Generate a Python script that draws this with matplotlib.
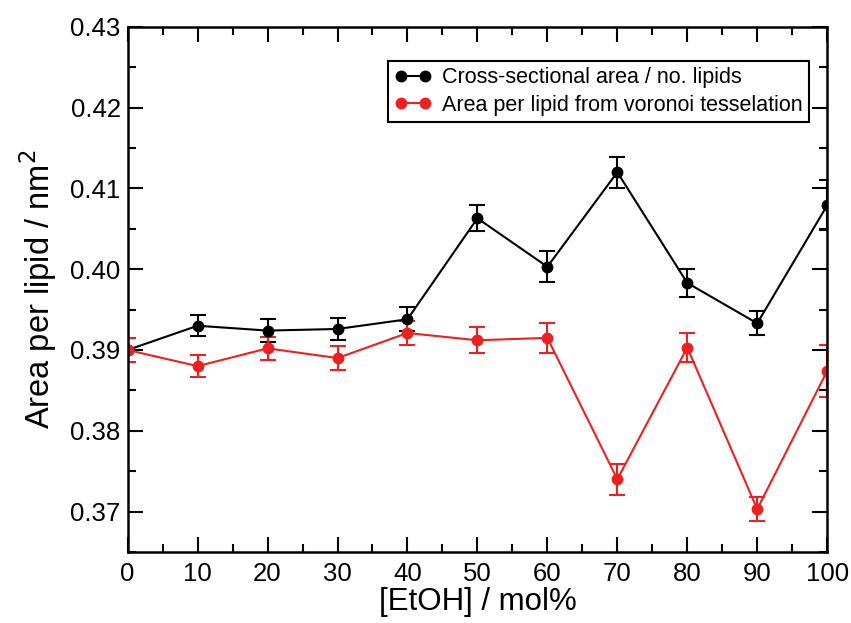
import numpy as np
import matplotlib.pyplot as plt
from matplotlib.ticker import MultipleLocator
from matplotlib.lines import Line2D

plt.rcParams['font.family'] = ['Liberation Sans', 'DejaVu Sans']

# data
etoh = [0, 10, 20, 30, 40, 50, 60, 70, 80, 90, 100]
cross_area = [0.3900, 0.3930, 0.3924, 0.3926, 0.3938, 0.4063, 0.4003, 0.4120, 0.3983, 0.3933, 0.4079]
cross_err = [0.0000, 0.0013, 0.0014, 0.0014, 0.0015, 0.0016, 0.0019, 0.0019, 0.0017, 0.0015, 0.0031]
voro_area = [0.3900, 0.3880, 0.3902, 0.3890, 0.3921, 0.3912, 0.3915, 0.3740, 0.3903, 0.3703, 0.3874]
voro_err = [0.0015, 0.0014, 0.0014, 0.0015, 0.0015, 0.0016, 0.0019, 0.0019, 0.0018, 0.0015, 0.0032]
labels = ['Cross-sectional area / no. lipids', 'Area per lipid from voronoi tesselation']

red = '#ec2020'

fig = plt.figure(figsize=(8.51, 6.23), dpi=100)
ax = fig.add_axes([0.150, 0.114, 0.822, 0.843])

handles = []
for y, err, c, lab in [(cross_area, cross_err, 'black', labels[0]),
                       (voro_area, voro_err, red, labels[1])]:
    ax.errorbar(etoh, y, yerr=err, color=c, marker='o', markersize=7.5,
                linewidth=1.5, elinewidth=1.5, capsize=6, capthick=1.5)
    handles.append(Line2D([], [], color=c, marker='o', markersize=7.5, linewidth=1.5, label=lab))

ax.set_xlim(0, 100)
ax.set_ylim(0.365, 0.43)
ax.xaxis.set_major_locator(MultipleLocator(10))
ax.xaxis.set_minor_locator(MultipleLocator(5))
ax.yaxis.set_major_locator(MultipleLocator(0.01))
ax.yaxis.set_minor_locator(MultipleLocator(0.005))
ax.yaxis.set_major_formatter(plt.FormatStrFormatter('%.2f'))

ax.tick_params(which='both', direction='in', top=True, right=True, width=1.5, labelsize=18.5)
ax.tick_params(which='major', length=11)
ax.tick_params(which='minor', length=6)
ax.tick_params(axis='y', pad=5)
ax.tick_params(axis='x', pad=7)
for s in ax.spines.values():
    s.set_linewidth(1.8)

ax.set_xlabel('[EtOH] / mol%', fontsize=22.5, labelpad=1)
ax.set_ylabel('Area per lipid / nm$^2$', fontsize=23.5, labelpad=8)

leg = ax.legend(handles=handles, loc='upper right', bbox_to_anchor=(0.974, 0.935),
                fontsize=15.5, numpoints=2, fancybox=False, framealpha=1,
                edgecolor='black', borderpad=0.3, handlelength=1.7,
                handletextpad=0.5, labelspacing=0.3, borderaxespad=0)
leg.get_frame().set_linewidth(1.5)

fig.savefig('out.png', dpi=100)
